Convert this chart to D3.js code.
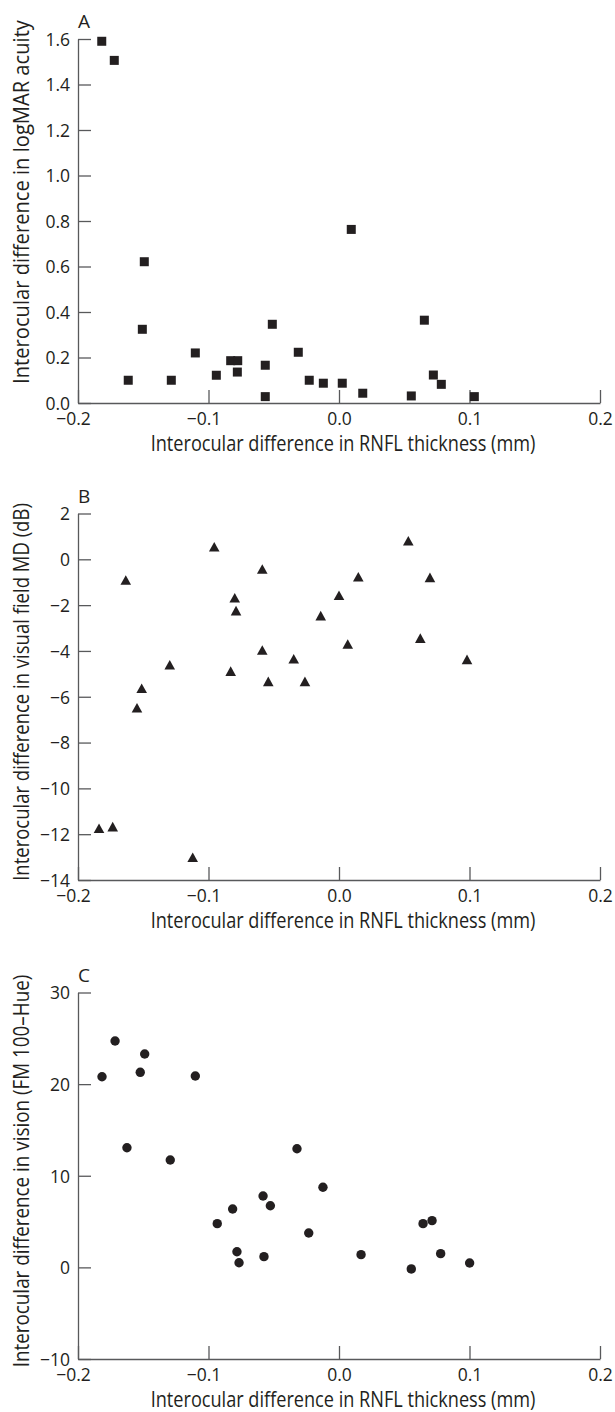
<!DOCTYPE html>
<html>
<head>
<meta charset="utf-8">
<script src="https://cdn.jsdelivr.net/npm/d3@7"></script>
<style>
  html, body { margin: 0; padding: 0; background: #fff; }
  svg { display: block; }
  text { font-family: "Open Sans", "DejaVu Sans", sans-serif; fill: #231f20; }
</style>
</head>
<body>
<svg id="chart" width="615" height="1412"></svg>
<script>
// ---------- data ----------
const xTicks = [-0.2, -0.1, 0.0, 0.1, 0.2];
const xTitle = "Interocular difference in RNFL thickness (mm)";

// Panel A: logMAR acuity
const aLetter = "A";
const aTitle = "Interocular difference in logMAR acuity";
const aTicks = [0.0, 0.2, 0.4, 0.6, 0.8, 1.0, 1.2, 1.4, 1.6];
const aX = [-0.1818, -0.1722, -0.1492, -0.1507, -0.1615, -0.1285, -0.1101, -0.0940, -0.0830, -0.0776,
            -0.0779, -0.0565, -0.0565, -0.0511, -0.0312, -0.0228, 0.0094, -0.0120, 0.0025, 0.0182,
            0.0554, 0.0654, 0.0723, 0.0784, 0.1037];
const aY = [1.590, 1.506, 0.621, 0.324, 0.100, 0.100, 0.220, 0.122, 0.186, 0.186,
            0.136, 0.166, 0.028, 0.346, 0.223, 0.100, 0.763, 0.087, 0.087, 0.043,
            0.031, 0.364, 0.123, 0.082, 0.028];

// Panel B: visual field MD (dB)
const bLetter = "B";
const bTitle = "Interocular difference in visual field MD (dB)";
const bTicks = [-14, -12, -10, -8, -6, -4, -2, 0, 2];
const bX = [-0.1839, -0.1734, -0.1634, -0.1548, -0.1512, -0.1297, -0.1121, -0.0956, -0.0830, -0.0799,
            -0.0789, -0.0588, -0.0588, -0.0542, -0.0347, -0.0261, -0.0140, 0.0000, 0.0067, 0.0148,
            0.0531, 0.0623, 0.0697, 0.0981];
const bY = [-11.74, -11.67, -0.90, -6.48, -5.63, -4.60, -13.01, 0.55, -4.88, -1.68,
            -2.24, -0.42, -3.96, -5.33, -4.34, -5.33, -2.46, -1.57, -3.70, -0.76,
            0.81, -3.44, -0.79, -4.37];

// Panel C: colour vision (FM 100-Hue)
const cLetter = "C";
const cTitle = "Interocular difference in vision (FM 100\u2013Hue)";
const cTicks = [-10, 0, 10, 20, 30];
const cX = [-0.1816, -0.1716, -0.1625, -0.1523, -0.1489, -0.1293, -0.1101, -0.0933, -0.0815, -0.0782,
            -0.0766, -0.0582, -0.0575, -0.0526, -0.0322, -0.0232, -0.0123, 0.0169, 0.0554, 0.0644,
            0.0713, 0.0779, 0.1001];
const cY = [20.81, 24.71, 13.06, 21.29, 23.29, 11.72, 20.89, 4.77, 6.37, 1.71,
            0.51, 7.79, 1.17, 6.73, 12.95, 3.75, 8.74, 1.39, -0.17, 4.77,
            5.10, 1.50, 0.48];

// ---------- layout ----------
const svg = d3.select("#chart");
const AXIS = "#58595b";
const INK = "#231f20";
const FONT = '"Open Sans", "DejaVu Sans", sans-serif';
const TICK_FS = 17.5;
const TITLE_FS = 21.5;
const left = 78, right = 600;
const x = d3.scaleLinear().domain([-0.2, 0.2]).range([left, right]);

const fmtMinus = s => s.replace("-", "\u2212");

const panels = [
  { letter: aLetter, title: aTitle, ticks: aTicks, xs: aX, ys: aY, top: 39, bottom: 403,
    fmt: d3.format(".1f"), shape: "square", titleCy: 202, titleLen: 364 },
  { letter: bLetter, title: bTitle, ticks: bTicks, xs: bX, ys: bY, top: 513.5, bottom: 880,
    fmt: d3.format("d"), shape: "triangle", titleCy: 692, titleLen: 378 },
  { letter: cLetter, title: cTitle, ticks: cTicks, xs: cX, ys: cY, top: 992.5, bottom: 1359,
    fmt: d3.format("d"), shape: "circle", titleCy: 1171, titleLen: 393 }
];

// measure helper
function measure(str, fs) {
  const t = svg.append("text").style("font-size", fs + "px").style("font-family", FONT).text(str);
  const w = t.node().getComputedTextLength();
  t.remove();
  return w;
}
const minusW = measure("\u2212", TICK_FS);
const xTitleScale = 385 / measure(xTitle, TITLE_FS);

panels.forEach(p => {
  const y = d3.scaleLinear().domain(d3.extent(p.ticks)).range([p.bottom, p.top]);
  const g = svg.append("g");

  // y axis
  const ya = g.append("g").attr("transform", `translate(${left},0)`)
    .call(d3.axisLeft(y).tickValues(p.ticks).tickSizeInner(-13).tickSizeOuter(0)
      .tickPadding(8).tickFormat(d => fmtMinus(p.fmt(d))));
  // x axis
  const xa = g.append("g").attr("transform", `translate(0,${p.bottom})`)
    .call(d3.axisBottom(x).tickValues(xTicks).tickSizeInner(-13).tickSizeOuter(0)
      .tickPadding(9.5).tickFormat(d => fmtMinus(d3.format(".1f")(d))));

  [ya, xa].forEach(a => {
    a.attr("font-size", null).attr("font-family", null);
    a.select(".domain").attr("stroke", AXIS).attr("stroke-width", 1.3);
    a.selectAll(".tick line").attr("stroke", AXIS).attr("stroke-width", 1.3);
    a.selectAll(".tick text").attr("fill", INK).style("font-size", TICK_FS + "px")
      .style("font-family", FONT);
  });
  ya.selectAll(".tick text").attr("dy", "0.36em");
  xa.selectAll(".tick text").attr("dx", d => d < 0 ? -minusW / 2 : 0);

  // panel letter
  g.append("text").attr("x", 78).attr("y", p.top - 11)
    .style("font-size", "19px").text(p.letter);

  // x title (horizontally condensed like the reference)
  g.append("text")
    .attr("transform", `translate(343,${p.bottom + 48}) scale(${xTitleScale},1)`)
    .attr("text-anchor", "middle").style("font-size", TITLE_FS + "px")
    .text(xTitle);

  // y title
  const ys = p.titleLen / measure(p.title, TITLE_FS);
  g.append("text")
    .attr("transform", `translate(28.5,${p.titleCy}) rotate(-90) scale(${ys},1)`)
    .attr("text-anchor", "middle").style("font-size", TITLE_FS + "px")
    .text(p.title);

  // points
  const pts = p.xs.map((v, i) => ({ x: v, y: p.ys[i] }));
  const mk = g.append("g");
  if (p.shape === "square") {
    mk.selectAll("rect").data(pts).join("rect")
      .attr("x", d => x(d.x) - 4.5).attr("y", d => y(d.y) - 4.5)
      .attr("width", 9).attr("height", 9).attr("fill", INK);
  } else if (p.shape === "triangle") {
    mk.selectAll("path").data(pts).join("path")
      .attr("d", d => {
        const cx = x(d.x), cy = y(d.y), w = 10.6, h = 9.6;
        return `M${cx},${cy - h / 2}L${cx + w / 2},${cy + h / 2}L${cx - w / 2},${cy + h / 2}Z`;
      })
      .attr("fill", INK);
  } else {
    mk.selectAll("circle").data(pts).join("circle")
      .attr("cx", d => x(d.x)).attr("cy", d => y(d.y)).attr("r", 4.7).attr("fill", INK);
  }
});
</script>
</body>
</html>
